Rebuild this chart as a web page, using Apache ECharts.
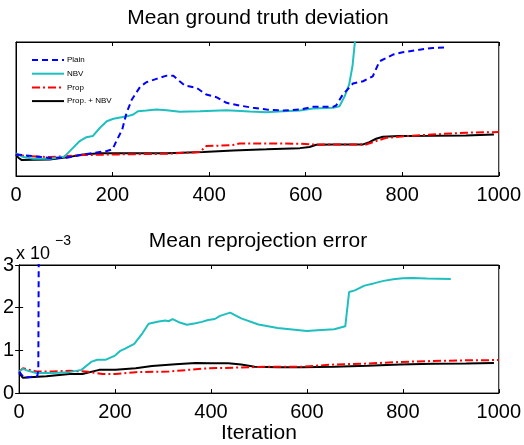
<!DOCTYPE html>
<html>
<head>
<meta charset="utf-8">
<script src="https://cdn.jsdelivr.net/npm/echarts@6/dist/echarts.min.js"></script>
<style>
html, body { margin: 0; padding: 0; background: #fff; }
#chart { width: 524px; height: 445px; }
</style>
</head>
<body>
<div id="chart"></div>
<script>
// x ticks shared by both panels
var xTicks = [0, 200, 400, 600, 800, 1000];
var yTicksBottom = [0, 1, 2, 3];

// top panel: mean ground truth deviation (no y scale shown, normalised 0..1)
var plainTopX = [0, 70, 105, 140, 188, 200, 208, 220, 229, 240, 257, 270, 291, 312, 326, 339, 350, 374, 394, 415, 436, 463, 491, 519, 553, 588, 615, 657, 663, 677, 698, 719, 739, 753, 781, 801, 836, 863, 891];
var plainTopY = [0.161, 0.135, 0.136, 0.161, 0.186, 0.199, 0.261, 0.347, 0.471, 0.571, 0.665, 0.700, 0.725, 0.749, 0.749, 0.707, 0.675, 0.658, 0.608, 0.588, 0.546, 0.526, 0.509, 0.496, 0.489, 0.496, 0.516, 0.516, 0.526, 0.608, 0.690, 0.707, 0.744, 0.856, 0.906, 0.923, 0.943, 0.955, 0.960];
var nbvTopX = [0, 15, 36, 70, 100, 115, 132, 146, 159, 174, 188, 202, 232, 243, 253, 270, 291, 312, 339, 381, 436, 484, 519, 553, 588, 615, 657, 670, 681, 690, 697, 702, 704, 710];
var nbvTopY = [0.169, 0.141, 0.129, 0.129, 0.144, 0.199, 0.261, 0.290, 0.298, 0.360, 0.409, 0.427, 0.447, 0.459, 0.484, 0.489, 0.496, 0.491, 0.479, 0.484, 0.491, 0.481, 0.476, 0.484, 0.489, 0.504, 0.509, 0.521, 0.596, 0.682, 0.819, 1.0, 1.117, 1.4];
var propTopX = [0, 22, 70, 139, 208, 312, 381, 394, 449, 463, 491, 588, 615, 726, 746, 767, 808, 863, 932, 1000];
var propTopY = [0.161, 0.149, 0.141, 0.156, 0.161, 0.166, 0.179, 0.223, 0.231, 0.243, 0.243, 0.241, 0.236, 0.236, 0.261, 0.285, 0.298, 0.310, 0.323, 0.328];
var bothTopX = [0, 5, 12, 36, 70, 105, 139, 174, 243, 312, 388, 450, 519, 588, 608, 622, 657, 719, 732, 746, 760, 794, 863, 932, 990];
var bothTopY = [0.161, 0.136, 0.119, 0.122, 0.124, 0.139, 0.161, 0.169, 0.169, 0.169, 0.179, 0.191, 0.199, 0.208, 0.216, 0.233, 0.236, 0.236, 0.253, 0.278, 0.293, 0.298, 0.300, 0.303, 0.310];

// bottom panel: mean reprojection error (x 10^-3)
var plainBotX = [0, 10, 25, 38, 40, 41];
var plainBotY = [0.50, 0.36, 0.38, 0.40, 0.55, 3.5];
var nbvBotX = [0, 8, 19, 36, 70, 105, 130, 150, 163, 181, 200, 211, 221, 240, 257, 270, 291, 305, 312, 320, 333, 350, 368, 381, 394, 408, 419, 440, 463, 499, 539, 600, 622, 657, 680, 688, 700, 720, 739, 760, 780, 800, 820, 850, 900];
var nbvBotY = [0.506, 0.566, 0.521, 0.469, 0.469, 0.491, 0.544, 0.730, 0.782, 0.782, 0.879, 0.990, 1.042, 1.154, 1.400, 1.623, 1.675, 1.698, 1.683, 1.735, 1.660, 1.601, 1.638, 1.668, 1.713, 1.735, 1.809, 1.884, 1.750, 1.608, 1.526, 1.452, 1.474, 1.497, 1.564, 2.368, 2.405, 2.517, 2.569, 2.628, 2.666, 2.688, 2.695, 2.681, 2.673];
var propBotX = [0, 8, 22, 36, 70, 105, 139, 174, 201, 243, 312, 353, 394, 450, 519, 588, 657, 726, 794, 863, 932, 1000];
var propBotY = [0.506, 0.581, 0.544, 0.506, 0.506, 0.521, 0.506, 0.447, 0.447, 0.491, 0.506, 0.544, 0.581, 0.596, 0.618, 0.618, 0.670, 0.692, 0.730, 0.752, 0.767, 0.774];
var bothBotX = [0, 8, 22, 57, 105, 132, 167, 201, 243, 277, 326, 368, 401, 436, 463, 491, 539, 588, 657, 726, 794, 863, 932, 990];
var bothBotY = [0.469, 0.357, 0.372, 0.395, 0.447, 0.447, 0.544, 0.544, 0.581, 0.633, 0.677, 0.707, 0.700, 0.700, 0.670, 0.618, 0.603, 0.603, 0.618, 0.640, 0.670, 0.685, 0.692, 0.707];

var names = ['Plain', 'NBV', 'Prop', 'Prop. + NBV'];

function zip(xs, ys) {
	var out = [];
	for (var i = 0; i < xs.length; i++) {
		out.push([xs[i], ys[i]]);
	}
	return out;
}

var font = 'Liberation Sans, Arial, Helvetica, sans-serif';
var chart = echarts.init(document.getElementById('chart'));

// styles per series, same order as names
var lineStyles = [
	{ color: '#0000ff', width: 2, type: [6, 4] },
	{ color: '#1fbfbf', width: 2, type: 'solid' },
	{ color: '#ff0000', width: 2, type: [8, 3, 2, 3] },
	{ color: '#000000', width: 2, type: 'solid' }
];

function mkSeries(name, idx, data, gi) {
	return {
		name: name,
		type: 'line',
		xAxisIndex: gi === 0 ? 0 : 2,
		yAxisIndex: gi === 0 ? 0 : 1,
		data: data,
		showSymbol: false,
		symbol: 'none',
		clip: true,
		silent: true,
		animation: false,
		lineStyle: lineStyles[idx],
		itemStyle: { color: lineStyles[idx].color },
		z: 10 - idx
	};
}

function xAxisCfg(gi, pos, showLabel, nameText) {
	return {
		type: 'value',
		gridIndex: gi,
		position: pos,
		min: xTicks[0],
		max: xTicks[xTicks.length - 1],
		interval: 200,
		axisLine: { show: true, onZero: false, lineStyle: { color: '#000', width: 1 } },
		axisTick: { show: true, inside: true, length: 4, lineStyle: { color: '#000' } },
		axisLabel: {
			show: showLabel, color: '#000', fontSize: 20, fontFamily: font, margin: 9,
			formatter: function (v) { return String(v); }
		},
		splitLine: { show: false },
		name: nameText || '',
		nameLocation: 'middle',
		nameGap: 28,
		nameTextStyle: { color: '#000', fontSize: 21, fontFamily: font }
	};
}

var option = {
	backgroundColor: '#fff',
	animation: false,
	legend: {
		data: names,
		orient: 'vertical',
		left: 26,
		top: 51,
		itemWidth: 32,
		itemHeight: 8,
		itemGap: 5.7,
		itemStyle: { color: 'rgba(0,0,0,0)', borderWidth: 0, opacity: 0 },
		textStyle: { fontSize: 8, color: '#000', fontFamily: font, padding: [0, 0, 0, -2] },
		selectedMode: false
	},
	grid: [
		{ left: 16, right: 25, top: 42, height: 134, show: true, borderColor: '#000', borderWidth: 1, containLabel: false },
		{ left: 16, right: 25, top: 265, height: 134, show: true, borderColor: '#000', borderWidth: 1, containLabel: false }
	],
	xAxis: [
		xAxisCfg(0, 'bottom', true),
		xAxisCfg(0, 'top', false),
		xAxisCfg(1, 'bottom', true, 'Iteration'),
		xAxisCfg(1, 'top', false)
	],
	yAxis: [
		{
			type: 'value', gridIndex: 0, min: 0, max: 1,
			axisLine: { show: true, lineStyle: { color: '#000' } },
			axisTick: { show: false }, axisLabel: { show: false }, splitLine: { show: false }
		},
		{
			type: 'value', gridIndex: 1, min: yTicksBottom[0], max: yTicksBottom[yTicksBottom.length - 1], interval: 1,
			axisLine: { show: true, lineStyle: { color: '#000' } },
			axisTick: { show: true, inside: true, length: 4, lineStyle: { color: '#000' } },
			axisLabel: { show: true, color: '#000', fontSize: 20, fontFamily: font, margin: 5 },
			splitLine: { show: false }
		},
		{
			type: 'value', gridIndex: 1, position: 'right', min: yTicksBottom[0], max: yTicksBottom[yTicksBottom.length - 1], interval: 1,
			axisLine: { show: true, lineStyle: { color: '#000' } },
			axisTick: { show: true, inside: true, length: 4, lineStyle: { color: '#000' } },
			axisLabel: { show: false }, splitLine: { show: false }
		}
	],
	graphic: [
		{ type: 'text', x: 258, y: 18, style: { text: 'Mean ground truth deviation', font: '21px ' + font, fill: '#000', textAlign: 'center', textVerticalAlign: 'middle' } },
		{ type: 'text', x: 258, y: 241, style: { text: 'Mean reprojection error', font: '21px ' + font, fill: '#000', textAlign: 'center', textVerticalAlign: 'middle' } },
		{ type: 'text', x: 16, y: 254, style: { text: 'x 10', font: '18px ' + font, fill: '#000', textAlign: 'left', textVerticalAlign: 'middle' } },
		{ type: 'text', x: 55, y: 241, style: { text: '\u22123', font: '14px ' + font, fill: '#000', textAlign: 'left', textVerticalAlign: 'middle' } }
	],
	series: [
		mkSeries(names[0], 0, zip(plainTopX, plainTopY), 0),
		mkSeries(names[1], 1, zip(nbvTopX, nbvTopY), 0),
		mkSeries(names[2], 2, zip(propTopX, propTopY), 0),
		mkSeries(names[3], 3, zip(bothTopX, bothTopY), 0),
		mkSeries(names[0], 0, zip(plainBotX, plainBotY), 1),
		mkSeries(names[1], 1, zip(nbvBotX, nbvBotY), 1),
		mkSeries(names[2], 2, zip(propBotX, propBotY), 1),
		mkSeries(names[3], 3, zip(bothBotX, bothBotY), 1)
	]
};
chart.setOption(option);
</script>
</body>
</html>
